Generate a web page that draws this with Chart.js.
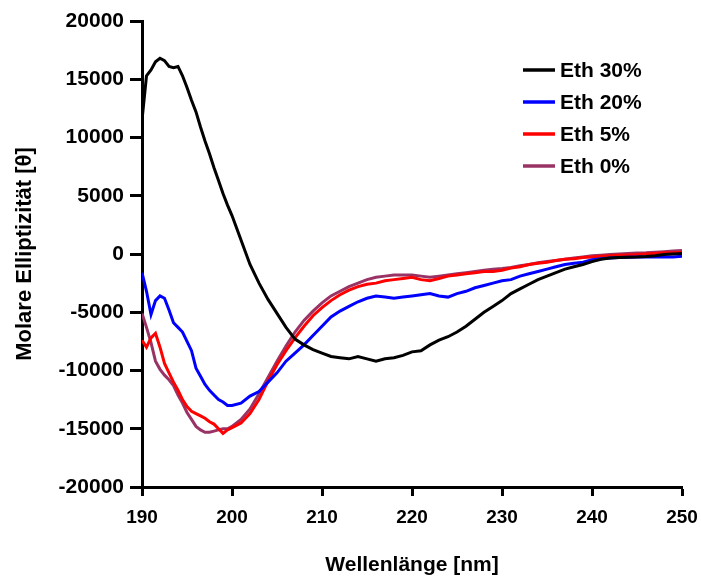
<!DOCTYPE html>
<html>
<head>
<meta charset="utf-8">
<script src="https://cdn.jsdelivr.net/npm/chart.js@4.4.1/dist/chart.umd.min.js"></script>
<style>
    html, body { margin: 0; padding: 0; background: #fff; }
    #wrap { width: 701px; height: 578px; }
</style>
</head>
<body>
<div id="wrap"><canvas id="cd-spektrum"></canvas></div>
<script>
// Wellenlänge [nm]
const wavelength = [
    190, 190.5, 191, 191.5, 192, 192.5, 193, 193.5, 194, 194.5,
    195, 195.5, 196, 196.5, 197, 197.5, 198, 198.5, 199, 199.5,
    200, 201, 202, 203, 204, 205, 206, 207, 208, 209,
    210, 211, 212, 213, 214, 215, 216, 217, 218, 219,
    220, 221, 222, 223, 224, 225, 226, 227, 228, 229,
    230, 231, 232, 233, 234, 235, 236, 237, 238, 239,
    240, 241, 242, 243, 244, 245, 246, 247, 248, 249, 250
];

const eth30 = [
    11500, 15300, 15800, 16500, 16800, 16600, 16100, 16000, 16100, 15300,
    14300, 13200, 12200, 10900, 9700, 8600, 7400, 6300, 5200, 4200,
    3300, 1200, -900, -2500, -3900, -5100, -6300, -7300, -7800, -8200,
    -8500, -8800, -8900, -9000, -8800, -9000, -9200, -9000, -8900, -8700,
    -8400, -8300, -7800, -7400, -7100, -6700, -6200, -5600, -5000, -4500,
    -4000, -3400, -3000, -2600, -2200, -1900, -1600, -1300, -1100, -900,
    -650, -450, -350, -300, -280, -260, -220, -150, -50, 0, 50
];

const eth20 = [
    -1600, -3200, -5200, -4000, -3600, -3800, -4800, -5900, -6300, -6700,
    -7500, -8300, -9800, -10500, -11200, -11700, -12100, -12500, -12700, -13000,
    -13000, -12800, -12200, -11800, -11000, -10200, -9200, -8500, -7800, -7000,
    -6200, -5400, -4900, -4500, -4100, -3800, -3600, -3700, -3800, -3700,
    -3600, -3500, -3400, -3600, -3700, -3400, -3200, -2900, -2700, -2500,
    -2300, -2200, -1900, -1700, -1500, -1300, -1100, -900, -800, -700,
    -500, -400, -350, -300, -280, -260, -260, -250, -250, -250, -200
];

const eth5 = [
    -7400, -8000, -7200, -6800, -8000, -9400, -10200, -11000, -11700, -12500,
    -13100, -13500, -13700, -13900, -14100, -14400, -14600, -15000, -15400, -15100,
    -14900, -14500, -13700, -12500, -10900, -9500, -8300, -7200, -6200, -5300,
    -4600, -4000, -3500, -3100, -2800, -2600, -2500, -2300, -2200, -2100,
    -2000, -2200, -2300, -2100, -1900, -1800, -1700, -1600, -1500, -1500,
    -1400, -1200, -1100, -900, -800, -700, -550, -450, -400, -300,
    -250, -200, -150, -100, -80, -50, 0, 50, 100, 100, 150
];

const eth0 = [
    -5100, -6300, -7600, -9200, -9900, -10400, -10800, -11300, -12100, -12800,
    -13600, -14200, -14800, -15100, -15300, -15300, -15200, -15100, -15000, -15000,
    -14800, -14200, -13300, -12000, -10600, -9200, -7900, -6700, -5700, -4900,
    -4200, -3600, -3200, -2800, -2500, -2200, -2000, -1900, -1800, -1800,
    -1800, -1900, -2000, -1900, -1800, -1700, -1600, -1500, -1400, -1300,
    -1250, -1150, -1000, -900, -750, -650, -550, -450, -350, -250,
    -150, -100, -50, 0, 50, 80, 100, 150, 200, 250, 300
];

const seriesLabels = ['Eth 30%', 'Eth 20%', 'Eth 5%', 'Eth 0%'];
const seriesColors = ['#000000', '#0000ff', '#ff0000', '#993366'];
const seriesValues = [eth30, eth20, eth5, eth0];

function toPoints(values) {
    return values.map((v, i) => ({ x: wavelength[i], y: v }));
}

const FONT = 'Liberation Sans, Arial, sans-serif';

// legend drawn inside plot area, top right
const legendPlugin = {
    id: 'cornerLegend',
    afterDraw(chart) {
        const ctx = chart.ctx;
        ctx.save();
        ctx.font = 'bold 21px ' + FONT;
        ctx.textBaseline = 'middle';
        chart.data.datasets.forEach((ds, i) => {
            const y = 70 + i * 32;
            ctx.strokeStyle = ds.borderColor;
            ctx.lineWidth = 3.5;
            ctx.beginPath();
            ctx.moveTo(523, y);
            ctx.lineTo(555, y);
            ctx.stroke();
            ctx.fillStyle = '#000';
            ctx.fillText(ds.label, 560, y + 1);
        });
        ctx.restore();
    }
};

new Chart(
    document.getElementById('cd-spektrum'),
    {
        type: 'scatter',
        data: {
            datasets: seriesLabels.map((label, i) => ({
                label: label,
                data: toPoints(seriesValues[i]),
                showLine: true,
                borderColor: seriesColors[i],
                backgroundColor: seriesColors[i],
                borderWidth: 3,
                pointRadius: 0,
                tension: 0
            }))
        },
        options: {
            responsive: true,
            maintainAspectRatio: false,
            animation: false,
            layout: {
                padding: { top: 21, right: 19, left: 0, bottom: 0 }
            },
            plugins: {
                legend: { display: false },
                tooltip: { enabled: false }
            },
            scales: {
                x: {
                    type: 'linear',
                    min: 190,
                    max: 250,
                    ticks: {
                        stepSize: 10,
                        color: '#000',
                        padding: 10,
                        font: { family: FONT, size: 19, weight: 'bold' }
                    },
                    grid: {
                        drawOnChartArea: false,
                        drawTicks: true,
                        tickLength: 9,
                        tickWidth: 3,
                        tickColor: '#000'
                    },
                    border: { display: true, color: '#000', width: 3 },
                    title: {
                        display: true,
                        text: 'Wellenlänge [nm]',
                        color: '#000',
                        font: { family: FONT, size: 21, weight: 'bold' },
                        padding: { top: 0, bottom: 0 }
                    },
                    afterFit: function (scale) {
                        scale.height = 91;
                        // keep plot right edge where the reference has it
                        scale.paddingLeft = 0;
                        scale.paddingRight = 0;
                    }
                },
                y: {
                    min: -20000,
                    max: 20000,
                    ticks: {
                        stepSize: 5000,
                        color: '#000',
                        padding: 6,
                        font: { family: FONT, size: 21, weight: 'bold' },
                        callback: (value) => String(value)
                    },
                    grid: {
                        drawOnChartArea: false,
                        drawTicks: true,
                        tickLength: 12,
                        tickWidth: 3,
                        tickColor: '#000'
                    },
                    border: { display: true, color: '#000', width: 3 },
                    title: {
                        display: true,
                        text: 'Molare Elliptizität [θ]',
                        color: '#000',
                        font: { family: FONT, size: 22, weight: 'bold' },
                        padding: { top: 12, bottom: 0 }
                    },
                    afterFit: function (scale) {
                        scale.width = 142;
                        scale.paddingTop = 0;
                        scale.paddingBottom = 0;
                    }
                }
            }
        },
        plugins: [legendPlugin]
    }
);
</script>
</body>
</html>
